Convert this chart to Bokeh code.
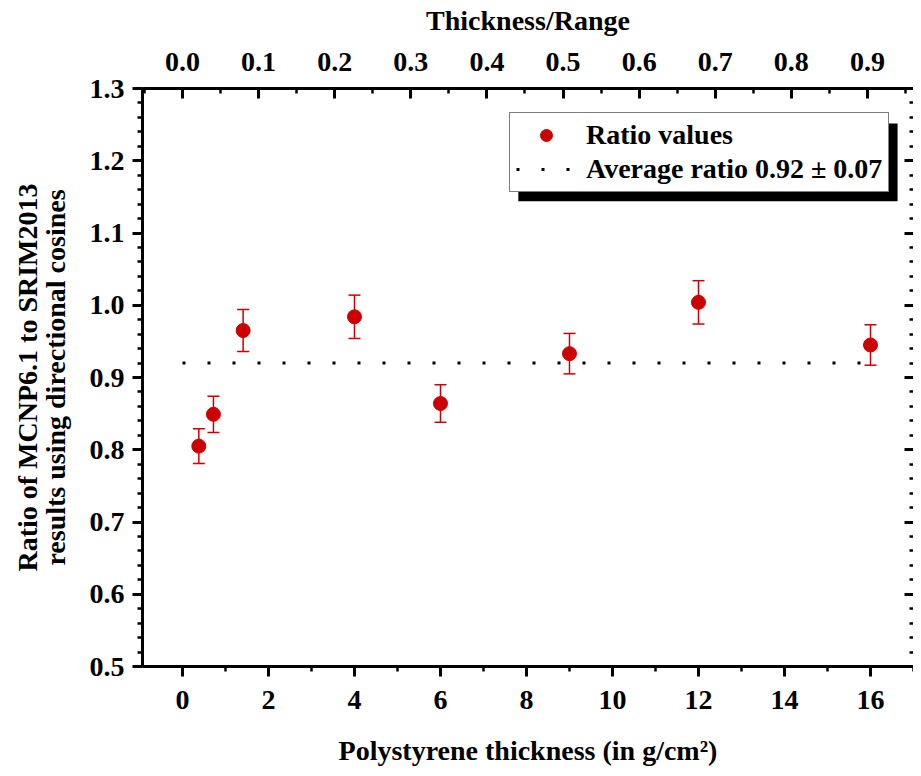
from bokeh.plotting import figure
from bokeh.models import (Range1d, LinearAxis, Whisker, ColumnDataSource, Legend,
                          LegendItem, BoxAnnotation, SingleIntervalTicker, TeeHead,
                          PrintfTickFormatter, CustomJSTickFormatter)
from bokeh.embed import file_html
from bokeh.resources import INLINE

# ---- data ----
thickness = [0.38, 0.72, 1.41, 4.0, 6.0, 9.0, 12.0, 16.0]      # g/cm^2
ratio = [0.805, 0.849, 0.965, 0.984, 0.864, 0.933, 1.004, 0.945]
ratio_err = [0.024, 0.025, 0.029, 0.030, 0.026, 0.028, 0.030, 0.028]
avg_ratio = 0.92
avg_x = [0.0, 16.1]
range_factor = 17.7   # thickness / (thickness/range)

FONT = "Liberation Serif"
RED = "#CC0000"
FS = "28px"

W, H = 913, 768
BL, BT, BB = 142, 88, 101
PX = 43.0
x0 = -0.93
x1 = x0 + (W - BL) / PX

p = figure(width=W, height=H, x_range=Range1d(x0, x1), y_range=Range1d(0.5, 1.3),
           output_backend="svg", toolbar_location=None,
           min_border_left=BL, min_border_right=0, min_border_top=BT, min_border_bottom=BB)
p.extra_x_ranges = {"top": Range1d(x0 / range_factor, x1 / range_factor)}
p.xgrid.visible = False
p.ygrid.visible = False
p.outline_line_color = None
p.background_fill_color = "white"
p.border_fill_color = "white"


def style(ax):
    ax.axis_line_width = 3
    ax.axis_line_color = "black"
    ax.major_tick_line_width = 3
    ax.minor_tick_line_width = 2.5
    ax.major_tick_line_color = "black"
    ax.minor_tick_line_color = "black"
    ax.major_label_text_font = FONT
    ax.major_label_text_font_style = "bold"
    ax.major_label_text_font_size = FS
    ax.major_label_text_color = "black"
    ax.axis_label_text_font = FONT
    ax.axis_label_text_font_style = "bold"
    ax.axis_label_text_font_size = FS
    ax.axis_label_text_color = "black"


xb = p.xaxis[0]
style(xb)
xb.ticker = SingleIntervalTicker(interval=2, num_minor_ticks=2)
xb.major_tick_out, xb.major_tick_in = 10, 0
xb.minor_tick_out, xb.minor_tick_in = 5, 0
xb.major_label_standoff = 14
xb.axis_label = "Polystyrene thickness (in g/cm\u00b2)"
xb.axis_label_standoff = 23

yl = p.yaxis[0]
style(yl)
yl.ticker = SingleIntervalTicker(interval=0.1, num_minor_ticks=5)
yl.formatter = PrintfTickFormatter(format="%.1f")
yl.major_tick_out, yl.major_tick_in = 10, 0
yl.minor_tick_out, yl.minor_tick_in = 5, 0
yl.major_label_standoff = 8
yl.axis_label = "Ratio of MCNP6.1 to SRIM2013\nresults using directional cosines"
yl.axis_label_text_line_height = 0.9
yl.axis_label_standoff = 16

xt = LinearAxis(x_range_name="top")
style(xt)
xt.ticker = SingleIntervalTicker(interval=0.1, num_minor_ticks=2)
xt.formatter = PrintfTickFormatter(format="%.1f")
xt.major_tick_out, xt.major_tick_in = 0, 10
xt.minor_tick_out, xt.minor_tick_in = 0, 5
xt.major_label_standoff = 18
xt.axis_label = "Thickness/Range"
xt.axis_label_standoff = 14
p.add_layout(xt, "above")

yr = LinearAxis()
style(yr)
yr.ticker = SingleIntervalTicker(interval=0.1, num_minor_ticks=5)
yr.major_tick_out, yr.major_tick_in = 0, 9
yr.minor_tick_out, yr.minor_tick_in = 0, 4
yr.axis_line_color = None
yr.formatter = CustomJSTickFormatter(code="return ''")
yr.major_label_text_color = None
yr.major_label_standoff = 0
p.add_layout(yr, "right")

# ---- data glyphs ----
src = ColumnDataSource(dict(
    x=thickness, y=ratio,
    upper=[r + e for r, e in zip(ratio, ratio_err)],
    lower=[r - e for r, e in zip(ratio, ratio_err)],
))

ln = p.line(avg_x, [avg_ratio, avg_ratio], line_color="black", line_width=3, line_dash="3 22")

wh = Whisker(base="x", upper="upper", lower="lower", source=src,
             line_color=RED, line_width=1.5,
             upper_head=TeeHead(size=12, line_color=RED, line_width=1.5),
             lower_head=TeeHead(size=12, line_color=RED, line_width=1.5))
p.add_layout(wh)

sc = p.scatter("x", "y", source=src, size=14, fill_color=RED, line_color=RED)

# ---- legend with drop shadow ----
shadow = BoxAnnotation(left=7.81, right=16.63, top=1.2516, bottom=1.1439,
                       fill_color="black", fill_alpha=1.0, line_color=None)
p.add_layout(shadow)

legend = Legend(items=[LegendItem(label="Ratio values", renderers=[sc]),
                       LegendItem(label="Average ratio 0.92 \u00b1 0.07", renderers=[ln])],
                location=(367, 474), margin=0, padding=6, spacing=2,
                glyph_width=60, glyph_height=30, label_height=30, label_standoff=10,
                label_text_font=FONT, label_text_font_style="bold", label_text_font_size=FS,
                label_text_color="black",
                border_line_color="black", border_line_width=1,
                background_fill_color="white", background_fill_alpha=1.0)
p.add_layout(legend)

open("out.html", "w").write(file_html(p, INLINE))
